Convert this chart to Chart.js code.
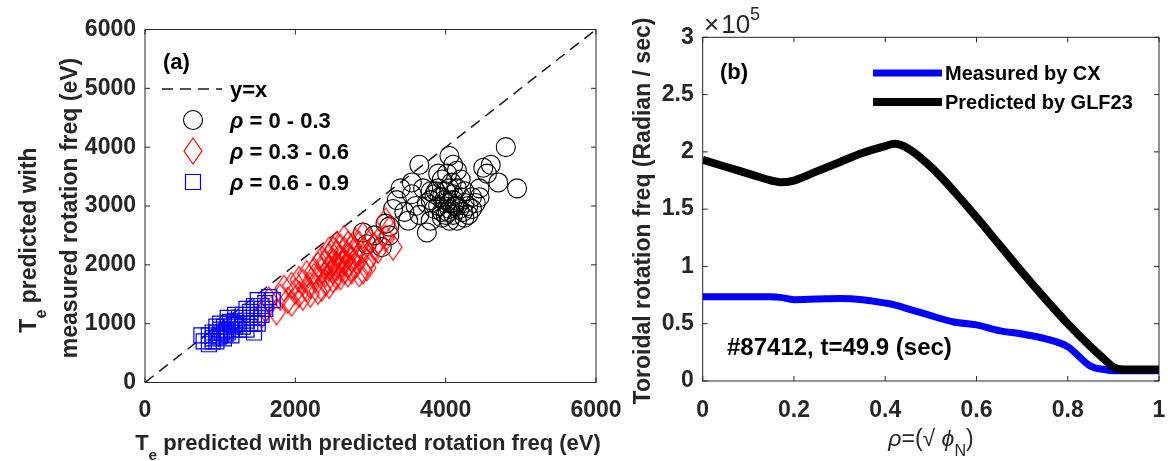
<!DOCTYPE html>
<html>
<head>
<meta charset="utf-8">
<script src="https://cdn.jsdelivr.net/npm/chart.js@4.4.0/dist/chart.umd.min.js"></script>
<style>
  body { margin: 0; background: #fff; }
  #wrap { position: relative; width: 1168px; height: 461px; overflow: hidden; }
  #wrap canvas { position: absolute; top: 0; }
</style>
</head>
<body>
<div id="wrap">
  <canvas id="left" width="660" height="461" style="left:0"></canvas>
  <canvas id="right" width="600" height="461" style="left:600px"></canvas>
</div>
<script>
// ---- panel (a): Te predicted with predicted vs measured rotation ----
const xTicksA = [0, 2000, 4000, 6000];
const yTicksA = [0, 1000, 2000, 3000, 4000, 5000, 6000];
const identityLine = [[0, 0], [6000, 6000]];

// rho = 0 - 0.3
const rhoInner = [
  [3800,3100],[3850,3200],[3900,3000],[3950,3150],[4000,3050],[4050,2950],[4100,3100],[4150,3000],
  [4000,3250],[3900,3300],[4050,3300],[4100,2850],[3950,2900],[4200,3150],[4250,3050],[4000,2850],
  [3850,2950],[3750,3050],[4100,3200],[3980,3100],[4060,3050],[4120,3000],[3920,3150],[4180,2950],
  [3870,3250],[4030,2900],[4230,2900],[4300,3000],[3800,3250],[4150,3300],[4080,3400],[3950,3450],
  [4200,3450],[4020,3550],[4250,3250],[4350,3150],[4400,3050],[4300,2850],[4150,2750],[4050,2750],
  [3950,2800],[4800,4000],[4950,3300],[4600,3700],[4500,3650],[4550,3550],[4450,3300],[4700,3400],
  [3650,3700],[4050,3850],[4100,3700],[3900,3550],[4150,3600],[3400,3300],[3550,3200],[3600,3000],
  [3700,3300],[3300,2950],[3450,2900],[3500,2750],[3750,2550],[3800,2750],[3650,2850],[3200,2700],
  [3250,2500],[3150,2300],[3050,2500],[2900,2550],[2950,2350],[3250,2650],[4250,2800],[4350,2950],
  [4450,3150],[3550,3400],[3350,3100]
];
// rho = 0.3 - 0.6
const rhoMid = [
  [1550,1150],[1600,1250],[1650,1400],[1750,1200],[1800,1450],[1850,1600],[1900,1400],[1950,1350],
  [2000,1550],[2050,1500],[2100,1700],[2150,1600],[2200,1650],[2250,1800],[2300,1750],[2350,1900],
  [2300,2000],[2400,1850],[2400,2050],[2450,1950],[2450,2150],[2500,1900],[2500,2050],[2550,2000],
  [2550,2200],[2600,1950],[2600,2100],[2650,2050],[2650,2250],[2700,2000],[2700,2150],[2750,2100],
  [2750,1900],[2800,2200],[2800,2000],[2850,2100],[2900,2250],[2850,1850],[2950,2050],[2700,1850],
  [2600,1800],[2500,1750],[2400,1700],[2350,1600],[2450,1650],[2550,1800],[2650,1900],[2600,2300],
  [2500,2250],[2700,2350],[2800,2400],[2900,2500],[3000,2150],[3050,2300],[3100,2250],[3200,2450],
  [3200,2750],[3250,2600],[3300,2300],[3100,2400],[2950,1950],[2900,1900],[2750,1950],[2300,1550],
  [2200,1500],[2100,1450],[1950,1650],[2050,1750],[2150,1850],[2250,1900],[2350,2100],[2450,2250],
  [2550,2350],[2650,2450],[2750,2300],[2850,2350],[3000,2400],[2550,1950],[2620,2020],[2480,2000]
];
// rho = 0.6 - 0.9
const rhoOuter = [
  [750,800],[780,700],[850,650],[900,750],[900,850],[950,700],[1000,800],[1000,900],[1050,750],
  [1050,950],[1100,850],[1100,1000],[1150,900],[1150,800],[1200,950],[1200,1050],[1250,900],
  [1250,1100],[1300,1000],[1300,1150],[1350,1050],[1400,1200],[1400,1100],[1450,1300],[1450,1150],
  [1500,1250],[1500,1400],[1550,1300],[1600,1350],[1650,1450],[1700,1400],[1450,850],[1500,1000],
  [950,950],[850,800],[1000,1000],[1100,1100],[1200,1150],[1350,1250],[1550,1150],[980,780],
  [1080,880],[1180,980],[1130,1030],[1230,1000],[900,700],[950,850],[1020,850],[1070,820],
  [1300,950],[1400,1000],[1350,900],[1250,1000],[1500,1100],[1600,1250],[1450,1000]
];
const legendA = ['y=x', ' = 0 - 0.3', ' = 0.3 - 0.6', ' = 0.6 - 0.9'];

// ---- panel (b): toroidal rotation profiles (units of 1e5 rad/s) ----
const xTicksB = [0, 0.2, 0.4, 0.6, 0.8, 1];
const yTicksB = [0, 0.5, 1, 1.5, 2, 2.5, 3];
const rhoGrid = [0, 0.05, 0.1, 0.15, 0.17, 0.2, 0.25, 0.3, 0.35, 0.4, 0.42, 0.45, 0.5, 0.55,
                 0.6, 0.65, 0.7, 0.75, 0.8, 0.85, 0.88, 0.9, 0.92, 0.95, 1.0];
const measuredCX = [0.735, 0.735, 0.735, 0.735, 0.73, 0.71, 0.715, 0.72, 0.71, 0.68, 0.665, 0.63,
                    0.57, 0.515, 0.49, 0.44, 0.41, 0.37, 0.3, 0.13, 0.1, 0.09, 0.09, 0.09, 0.09];
const predictedGLF = [1.93, 1.87, 1.81, 1.75, 1.735, 1.75, 1.83, 1.91, 1.99, 2.05, 2.07, 2.03,
                      1.87, 1.66, 1.43, 1.19, 0.95, 0.72, 0.5, 0.3, 0.19, 0.12, 0.1, 0.1, 0.1];
const legendB = ['Measured by CX', 'Predicted by GLF23'];

const FAM = '"Liberation Sans", Arial, sans-serif';
const AX = '#262626';

function toXY(pairs) { return pairs.map(p => ({x: p[0], y: p[1]})); }

// tall diamond marker like matlab's
function diamondMarker() {
  const c = document.createElement('canvas');
  c.width = 22; c.height = 30;
  const g = c.getContext('2d');
  g.strokeStyle = '#ff0000';
  g.lineWidth = 1.2;
  g.beginPath();
  g.moveTo(11, 2); g.lineTo(20, 15); g.lineTo(11, 28); g.lineTo(2, 15); g.closePath();
  g.stroke();
  return c;
}
const diamond = diamondMarker();

// text with sub/superscripts and italics
function drawRich(ctx, parts, x, y, o) {
  ctx.save();
  ctx.translate(x, y);
  if (o.rotate) ctx.rotate(o.rotate);
  const fontOf = p => {
    const s = p.size || ((p.sub || p.sup) ? o.size * 0.7 : o.size);
    return (p.italic ? 'italic ' : '') + (p.weight || o.weight || 'normal') + ' ' + s + 'px ' + FAM;
  };
  let total = 0;
  parts.forEach(p => { ctx.font = fontOf(p); p.w = ctx.measureText(p.t).width + (p.gap || 0); total += p.w; });
  let cx = o.align === 'center' ? -total / 2 : 0;
  ctx.fillStyle = o.color || '#000';
  ctx.textBaseline = o.baseline || 'alphabetic';
  ctx.textAlign = 'left';
  parts.forEach(p => {
    ctx.font = fontOf(p);
    const dy = p.sub ? o.size * 0.45 : (p.sup ? -o.size * 0.5 : 0);
    ctx.fillText(p.t, cx, dy);
    cx += p.w;
  });
  ctx.restore();
}

// matlab-style box with inward ticks
const boxPlugin = {
  id: 'box',
  afterDraw(chart) {
    const {ctx, chartArea: a, scales: {x, y}} = chart;
    ctx.save();
    ctx.strokeStyle = AX;
    ctx.lineWidth = 1;
    ctx.strokeRect(a.left, a.top, a.right - a.left, a.bottom - a.top);
    ctx.beginPath();
    x.ticks.forEach(t => {
      const px = x.getPixelForValue(t.value);
      ctx.moveTo(px, a.bottom); ctx.lineTo(px, a.bottom - 5);
      ctx.moveTo(px, a.top); ctx.lineTo(px, a.top + 5);
    });
    y.ticks.forEach(t => {
      const py = y.getPixelForValue(t.value);
      ctx.moveTo(a.left, py); ctx.lineTo(a.left + 5, py);
      ctx.moveTo(a.right, py); ctx.lineTo(a.right - 5, py);
    });
    ctx.stroke();
    ctx.restore();
  }
};

function axisCfg(ticks, fitProp, fitVal, pad) {
  return {
    type: 'linear',
    min: ticks[0],
    max: ticks[ticks.length - 1],
    afterBuildTicks: s => { s.ticks = ticks.map(v => ({value: v})); },
    afterFit: s => { s[fitProp] = fitVal; },
    grid: {display: false, drawTicks: false},
    border: {display: false},
    ticks: {
      color: AX,
      padding: pad,
      autoSkip: false,
      maxRotation: 0,
      font: {family: FAM, size: 23, weight: 'bold'},
      callback: v => String(v)
    }
  };
}

// ---------- chart (a) ----------
const annotA = {
  id: 'annotA',
  afterDraw(chart) {
    const ctx = chart.ctx;
    const ds = chart.data.datasets;
    drawRich(ctx, [{t: '(a)'}], 163, 63, {size: 22, weight: 'bold', baseline: 'middle'});
    // legend
    ctx.save();
    ctx.strokeStyle = ds[0].borderColor;
    ctx.lineWidth = ds[0].borderWidth;
    ctx.setLineDash(ds[0].borderDash);
    ctx.beginPath(); ctx.moveTo(162, 89); ctx.lineTo(222, 89); ctx.stroke();
    ctx.restore();
    drawRich(ctx, [{t: legendA[0]}], 230, 91, {size: 22, weight: 'bold', baseline: 'middle'});
    const rows = [[1, 120], [2, 151], [3, 182]];
    rows.forEach(([i, yy]) => {
      const d = ds[i];
      ctx.save();
      ctx.strokeStyle = d.borderColor;
      ctx.fillStyle = 'rgba(0,0,0,0)';
      ctx.lineWidth = d.borderWidth;
      Chart.helpers.drawPoint(ctx, {pointStyle: d.pointStyle, radius: d.pointRadius, borderWidth: d.borderWidth}, 193, yy);
      ctx.restore();
      drawRich(ctx, [{t: '\u03c1', italic: true}, {t: legendA[i]}], 230, yy + 2,
               {size: 22, weight: 'bold', baseline: 'middle'});
    });
    // axis titles
    drawRich(ctx, [{t: 'T'}, {t: 'e', sub: true}, {t: ' predicted with predicted rotation freq (eV)'}],
             368, 450, {size: 22, weight: 'bold', align: 'center', color: AX});
    drawRich(ctx, [{t: 'T'}, {t: 'e', sub: true}, {t: ' predicted with'}],
             36, 240, {size: 23, weight: 'bold', align: 'center', rotate: -Math.PI / 2, color: AX});
    drawRich(ctx, [{t: 'measured rotation freq (eV)'}],
             77, 208, {size: 23, weight: 'bold', align: 'center', rotate: -Math.PI / 2, color: AX});
  }
};

new Chart(document.getElementById('left'), {
  type: 'scatter',
  data: {
    datasets: [
      {label: legendA[0], data: toXY(identityLine), showLine: true, pointRadius: 0,
       borderColor: '#1a1a1a', borderWidth: 1.5, borderDash: [11, 7], order: 3},
      {label: legendA[1], data: toXY(rhoInner), pointStyle: 'circle', pointRadius: 9.5,
       borderColor: '#000000', backgroundColor: 'rgba(0,0,0,0)', borderWidth: 1.1, order: 2},
      {label: legendA[2], data: toXY(rhoMid), pointStyle: diamond, pointRadius: 11,
       borderColor: '#ff0000', backgroundColor: 'rgba(0,0,0,0)', borderWidth: 1.2, order: 1},
      {label: legendA[3], data: toXY(rhoOuter), pointStyle: 'rect', pointRadius: 10.6,
       borderColor: '#0000ff', backgroundColor: 'rgba(0,0,0,0)', borderWidth: 1.2, order: 0}
    ]
  },
  options: {
    responsive: false,
    animation: false,
    layout: {padding: {top: 29.5, right: 64, left: 0, bottom: 0}},
    plugins: {legend: {display: false}, tooltip: {enabled: false}},
    scales: {
      x: axisCfg(xTicksA, 'height', 78.5, 14),
      y: axisCfg(yTicksA, 'width', 145, 9)
    }
  },
  plugins: [boxPlugin, annotA]
});

// ---------- chart (b) ----------
const annotB = {
  id: 'annotB',
  afterDraw(chart) {
    const ctx = chart.ctx;
    const ds = chart.data.datasets;
    drawRich(ctx, [{t: '(b)'}], 120, 73, {size: 22, weight: 'bold', baseline: 'middle'});
    drawRich(ctx, [{t: '\u00d7', gap: 2}, {t: '10'}, {t: '5', sup: true, size: 18}], 104, 33, {size: 26, color: AX});
    // legend
    [[0, 73], [1, 102]].forEach(([i, yy]) => {
      ctx.save();
      ctx.strokeStyle = ds[i].borderColor;
      ctx.lineWidth = ds[i].borderWidth;
      ctx.beginPath(); ctx.moveTo(273, yy); ctx.lineTo(342, yy); ctx.stroke();
      ctx.restore();
      drawRich(ctx, [{t: legendB[i]}], 345, yy + 1, {size: 20, weight: 'bold', baseline: 'middle'});
    });
    drawRich(ctx, [{t: '#87412, t=49.9 (sec)'}], 127, 348, {size: 24, weight: 'bold', baseline: 'middle'});
    // axis titles
    drawRich(ctx, [{t: '\u03c1', italic: true}, {t: '=(\u221a '}, {t: '\u03d5', italic: true},
                   {t: 'N', sub: true}, {t: ')'}],
             331, 446, {size: 23, align: 'center', color: AX});
    drawRich(ctx, [{t: 'Toroidal rotation freq (Radian / sec)'}],
             44, 211, {size: 23, weight: 'bold', align: 'center', rotate: -Math.PI / 2,
                       baseline: 'middle', color: AX});
  }
};

new Chart(document.getElementById('right'), {
  type: 'scatter',
  data: {
    datasets: [
      {label: legendB[0], data: rhoGrid.map((r, i) => ({x: r, y: measuredCX[i]})),
       showLine: true, pointRadius: 0, borderColor: '#0000ff', borderWidth: 7,
       cubicInterpolationMode: 'monotone', order: 1},
      {label: legendB[1], data: rhoGrid.map((r, i) => ({x: r, y: predictedGLF[i]})),
       showLine: true, pointRadius: 0, borderColor: '#000000', borderWidth: 8,
       cubicInterpolationMode: 'monotone', order: 0}
    ]
  },
  options: {
    responsive: false,
    animation: false,
    layout: {padding: {top: 37.3, right: 41, left: 0, bottom: 0}},
    plugins: {legend: {display: false}, tooltip: {enabled: false}},
    scales: {
      x: axisCfg(xTicksB, 'height', 80, 16),
      y: axisCfg(yTicksB, 'width', 102.7, 9)
    }
  },
  plugins: [boxPlugin, annotB]
});
</script>
</body>
</html>
